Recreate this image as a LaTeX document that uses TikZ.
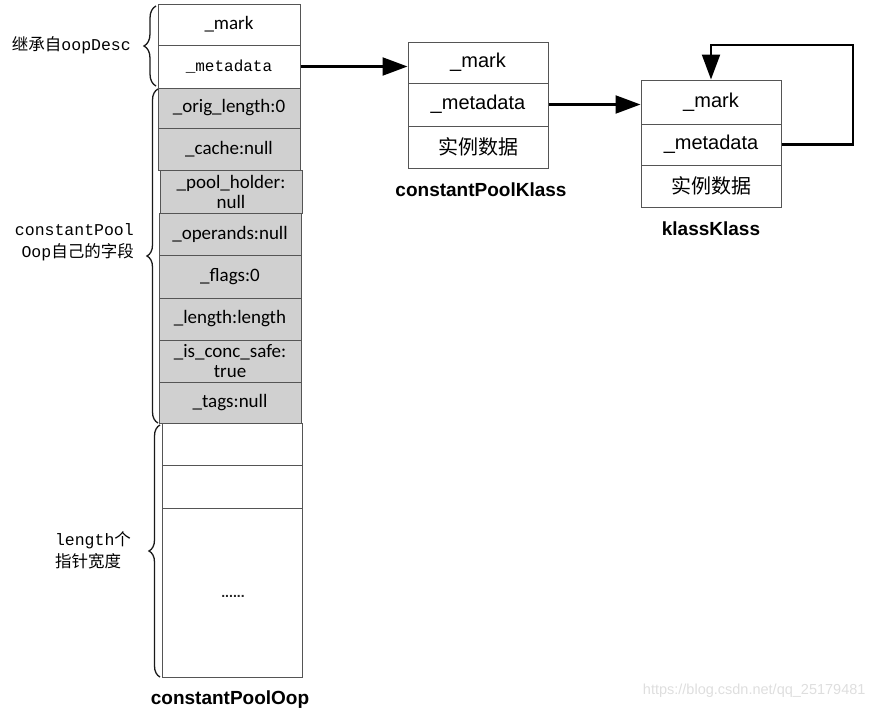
\documentclass[tikz,border=0pt]{standalone}
\usepackage{fontspec}
\setmainfont{Liberation Sans}
\newfontfamily\cjk{Noto Sans CJK SC}
\newfontfamily\monof{Liberation Mono}
\newfontfamily\carl{Carlito}
\usetikzlibrary{arrows.meta,decorations.pathreplacing}
\definecolor{cellgray}{HTML}{D0D0D0}
\definecolor{edge}{HTML}{555555}
\begin{document}
\begin{tikzpicture}[x=1pt,y=-1pt,
  cell/.style={draw=edge,line width=1pt,fill=white,inner sep=0pt,minimum width=142pt,
    font=\carl\fontsize{19}{21}\selectfont,align=center,text=black},
  cellg/.style={cell,fill=cellgray},
  kcell/.style={draw=edge,line width=1pt,fill=white,inner sep=0pt,minimum width=140pt,
    font=\fontsize{20}{22}\selectfont,align=center,text=black},
  title/.style={font=\bfseries\fontsize{19}{22}\selectfont,text=black},
  side/.style={font=\fontsize{16.5}{22}\selectfont,text=black,inner sep=0pt},
  brc/.style={decorate,draw=black!90,line width=1.3pt,decoration={brace,amplitude=#1}},
  link/.style={line width=2.2pt,draw=black,-{Triangle[length=25pt,width=18pt]}}]
\useasboundingbox (0,0) rectangle (876,712);
% left column
\node[cell,minimum height=41pt] (m1) at (229,24.5) {\_mark};
\node[cell,minimum height=43pt,font=\monof\fontsize{16}{19}\selectfont] (m2) at (229,66.5) {\_metadata};
\node[cellg,minimum height=40pt] (g1) at (229,108) {\_orig\_length:0};
\node[cellg,minimum height=42pt] (g2) at (229,149) {\_cache:null};
\node[cellg,minimum height=43pt,font=\carl\fontsize{19}{21}\selectfont] (g3) at (231,191.5) {\_pool\_holder:\\[-1pt]null};
\node[cellg,minimum height=42pt] (g4) at (230,234) {\_operands:null};
\node[cellg,minimum height=43pt] (g5) at (230,276.5) {\_flags:0};
\node[cellg,minimum height=42pt] (g6) at (230,319) {\_length:length};
\node[cellg,minimum height=42pt,font=\carl\fontsize{19}{21}\selectfont] (g7) at (230,361) {\_is\_conc\_safe:\\[-1pt]true};
\node[cellg,minimum height=41pt] (g8) at (230,402.5) {\_tags:null};
\node[cell,minimum width=140pt,minimum height=42pt] (e1) at (232,444) {};
\node[cell,minimum width=140pt,minimum height=43pt] (e2) at (232,486.5) {};
\node[cell,minimum width=140pt,minimum height=169pt] (e3) at (232,592.5) {};
\node[font=\fontsize{14}{14}\selectfont\bfseries,text=black!85] (dots) at (233,596) {......};
\node[title] (t1) at (230,700) {constantPoolOop};
% braces and side labels
\coordinate (b1a) at (156,86); \coordinate (b1b) at (156,6);
\draw[brc=12pt] (b1a) -- (b1b);
\node[side,anchor=east] (l1) at (131,45) {{\cjk 继承自}{\monof oopDesc}};
\coordinate (b2a) at (158,423); \coordinate (b2b) at (158,89);
\draw[brc=11pt] (b2a) -- (b2b);
\node[side,anchor=east,align=right] (l2) at (134,242) {{\monof constantPool}\\{\monof Oop}{\cjk 自己的字段}};
\coordinate (b3a) at (160,677); \coordinate (b3b) at (160,425);
\draw[brc=11pt] (b3a) -- (b3b);
\node[side,align=left] (l3) at (93,550) {{\monof length}{\cjk 个}\\{\cjk 指针宽度}};
% constantPoolKlass
\node[kcell,minimum height=41pt] (k1) at (478,62.5) {\_mark};
\node[kcell,minimum height=43pt] (k2) at (478,104.5) {\_metadata};
\node[kcell,minimum height=42pt] (k3) at (478,147) {\cjk 实例数据};
\node[title] (t2) at (481,190) {constantPoolKlass};
% klassKlass
\node[kcell,minimum height=44pt] (q1) at (711,102) {\_mark};
\node[kcell,minimum height=41pt] (q2) at (711,144.5) {\_metadata};
\node[kcell,minimum height=42pt] (q3) at (711,186) {\cjk 实例数据};
\node[title] (t3) at (711,229) {klassKlass};
% arrows
\draw[link] (m2.east) -- (m2.east -| k1.west);
\draw[link] (k2.east) -- (k2.east -| q1.west);
\coordinate (loop) at (853,45);
\draw[link] (q2.east) -| (loop) -| (q1.north);
% watermark
\node[font=\fontsize{14.5}{16}\selectfont,text=black!13,anchor=east] (wm) at (869,691) {https://blog.csdn.net/qq\_25179481};
\end{tikzpicture}
\end{document}
